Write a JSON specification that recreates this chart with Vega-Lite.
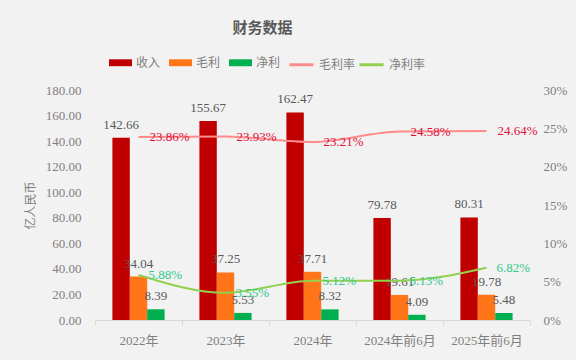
{
  "$schema": "https://vega.github.io/schema/vega-lite/v6.json",
  "width": 435,
  "height": 230,
  "autosize": {"type": "none"},
  "padding": {"left": 95, "top": 90, "right": 46, "bottom": 40},
  "background": "#f2f2f2",
  "title": {
    "text": "财务数据",
    "fontSize": 15,
    "fontWeight": "bold",
    "color": "#595959",
    "font": "Noto Sans CJK SC",
    "anchor": "middle",
    "dx": -50,
    "offset": 15
  },
  "config": {
    "view": {"stroke": null},
    "axis": {"labelFont": "Liberation Serif, Noto Sans CJK SC", "labelFontSize": 13, "labelColor": "#7f7f7f", "grid": false}
  },
  "datasets": {
    "bars": [
      {"year": "2022年", "series": "收入", "value": 142.66},
      {"year": "2022年", "series": "毛利", "value": 34.04},
      {"year": "2022年", "series": "净利", "value": 8.39},
      {"year": "2023年", "series": "收入", "value": 155.67},
      {"year": "2023年", "series": "毛利", "value": 37.25},
      {"year": "2023年", "series": "净利", "value": 5.53},
      {"year": "2024年", "series": "收入", "value": 162.47},
      {"year": "2024年", "series": "毛利", "value": 37.71},
      {"year": "2024年", "series": "净利", "value": 8.32},
      {"year": "2024年前6月", "series": "收入", "value": 79.78},
      {"year": "2024年前6月", "series": "毛利", "value": 19.61},
      {"year": "2024年前6月", "series": "净利", "value": 4.09},
      {"year": "2025年前6月", "series": "收入", "value": 80.31},
      {"year": "2025年前6月", "series": "毛利", "value": 19.78},
      {"year": "2025年前6月", "series": "净利", "value": 5.48}
    ],
    "rates": [
      {"year": "2022年", "rate": "毛利率", "pct": 0.2386},
      {"year": "2023年", "rate": "毛利率", "pct": 0.2393},
      {"year": "2024年", "rate": "毛利率", "pct": 0.2321},
      {"year": "2024年前6月", "rate": "毛利率", "pct": 0.2458},
      {"year": "2025年前6月", "rate": "毛利率", "pct": 0.2464},
      {"year": "2022年", "rate": "净利率", "pct": 0.0588},
      {"year": "2023年", "rate": "净利率", "pct": 0.0355},
      {"year": "2024年", "rate": "净利率", "pct": 0.0512},
      {"year": "2024年前6月", "rate": "净利率", "pct": 0.0513},
      {"year": "2025年前6月", "rate": "净利率", "pct": 0.0682}
    ]
  },
  "encoding": {
    "x": {
      "field": "year",
      "type": "nominal",
      "sort": ["2022年", "2023年", "2024年", "2024年前6月", "2025年前6月"],
      "scale": {"paddingInner": 0, "paddingOuter": 0},
      "axis": {
        "title": null,
        "labelAngle": 0,
        "tickBand": "extent",
        "domainColor": "#d9d9d9",
        "tickColor": "#d9d9d9",
        "tickSize": 5,
        "labelPadding": 9
      }
    }
  },
  "layer": [
    {
      "data": {"name": "bars"},
      "encoding": {
        "xOffset": {"field": "series", "type": "nominal", "sort": ["收入", "毛利", "净利"], "scale": {"paddingOuter": 1.06, "paddingInner": 0}},
        "y": {
          "field": "value",
          "type": "quantitative",
          "scale": {"domain": [0, 180]},
          "axis": {
            "title": "亿人民币",
            "titleFont": "Noto Sans CJK SC",
            "titleFontSize": 12,
            "titleFontWeight": "normal",
            "titleColor": "#7f7f7f",
            "titlePadding": 8,
            "values": [0, 20, 40, 60, 80, 100, 120, 140, 160, 180],
            "format": ".2f",
            "domain": false,
            "ticks": false,
            "labelPadding": 14
          }
        }
      },
      "layer": [
        {
          "mark": {"type": "bar"},
          "encoding": {
            "color": {
              "field": "series",
              "type": "nominal",
              "sort": ["收入", "毛利", "净利"],
              "scale": {"domain": ["收入", "毛利", "净利"], "range": ["#c00000", "#ff7518", "#00b050"]},
              "legend": {
                "title": null,
                "orient": "none",
                "direction": "horizontal",
                "legendX": 14,
                "legendY": -39,
                "symbolType": "M-1,-0.3H1V0.3H-1Z",
                "symbolSize": 529,
                "symbolStrokeWidth": 0,
                "symbolOpacity": 1,
                "labelFont": "Noto Sans CJK SC",
                "labelFontSize": 12,
                "labelColor": "#7f7f7f",
                "labelOffset": 4,
                "columnPadding": 8
              }
            }
          }
        },
        {
          "mark": {"type": "text", "baseline": "bottom", "dy": -6, "fontSize": 13, "font": "Liberation Serif", "color": "#595959"},
          "encoding": {
            "text": {"field": "value", "type": "quantitative", "format": ".2f"}
          }
        }
      ]
    },
    {
      "data": {"name": "rates"},
      "encoding": {
        "y": {
          "field": "pct",
          "type": "quantitative",
          "scale": {"domain": [0, 0.3]},
          "axis": {
            "orient": "right",
            "title": null,
            "values": [0, 0.05, 0.1, 0.15, 0.2, 0.25, 0.3],
            "format": ".0%",
            "domain": false,
            "ticks": false,
            "labelPadding": 13
          }
        }
      },
      "layer": [
        {
          "mark": {"type": "line", "interpolate": "monotone", "strokeWidth": 2},
          "encoding": {
            "stroke": {
              "field": "rate",
              "type": "nominal",
              "scale": {"domain": ["毛利率", "净利率"], "range": ["#ff8c8c", "#92d050"]},
              "legend": {
                "title": null,
                "orient": "none",
                "direction": "horizontal",
                "legendX": 193,
                "legendY": -39,
                "symbolType": "stroke",
                "symbolSize": 576,
                "symbolStrokeWidth": 3,
                "labelFont": "Noto Sans CJK SC",
                "labelFontSize": 12,
                "labelColor": "#7f7f7f",
                "labelOffset": 4,
                "columnPadding": -3
              }
            }
          }
        },
        {
          "transform": [{"filter": "datum.rate === '毛利率'"}],
          "mark": {"type": "text", "align": "left", "baseline": "middle", "dx": 11, "fontSize": 13, "font": "Liberation Serif", "color": "#e0103a"},
          "encoding": {"text": {"field": "pct", "type": "quantitative", "format": ".2%"}}
        },
        {
          "transform": [{"filter": "datum.rate === '净利率'"}],
          "mark": {"type": "text", "align": "left", "baseline": "middle", "dx": 10, "fontSize": 13, "font": "Liberation Serif", "color": "#2ec98a"},
          "encoding": {"text": {"field": "pct", "type": "quantitative", "format": ".2%"}}
        }
      ]
    }
  ],
  "resolve": {"scale": {"y": "independent"}}
}
